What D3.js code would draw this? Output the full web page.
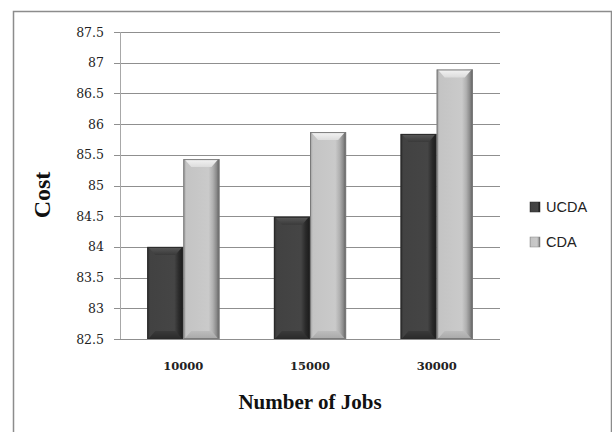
<!DOCTYPE html>
<html><head><meta charset="utf-8">
<script src="https://cdn.jsdelivr.net/npm/d3@7"></script>
<style>body{margin:0;background:#fff;} svg{display:block;}</style>
</head><body>
<svg id="c" width="612" height="432"></svg>
<script>
const categories = ["10000", "15000", "30000"];
const seriesNames = ["UCDA", "CDA"];
const ucda = [84.0, 84.49, 85.84];
const cda = [85.43, 85.87, 86.89];
const yTicks = [82.5, 83, 83.5, 84, 84.5, 85, 85.5, 86, 86.5, 87, 87.5];

const svg = d3.select("#c");
const defs = svg.append("defs");
function hgrad(id, stops){
  const g = defs.append("linearGradient").attr("id", id).attr("x1","0").attr("x2","1").attr("y1","0").attr("y2","0");
  stops.forEach(s => g.append("stop").attr("offset", s[0]).attr("stop-color", s[1]));
}
function vgrad(id, stops){
  const g = defs.append("linearGradient").attr("id", id).attr("x1","0").attr("x2","0").attr("y1","0").attr("y2","1");
  stops.forEach(s => g.append("stop").attr("offset", s[0]).attr("stop-color", s[1]));
}
hgrad("darkBody", [[0,"#2e2e2e"],[0.08,"#424242"],[0.75,"#454545"],[0.88,"#2a2a2a"],[1,"#1a1a1a"]]);
hgrad("lightBody", [[0,"#9a9a9a"],[0.08,"#c4c4c4"],[0.7,"#cacaca"],[0.82,"#b0b0b0"],[0.92,"#8a8a8a"],[1,"#5a5a5a"]]);
vgrad("darkTop", [[0,"#5a5a5a"],[1,"#3a3a3a"]]);
vgrad("lightTop", [[0,"#f4f4f4"],[1,"#dcdcdc"]]);
vgrad("darkBot", [[0,"#3a3a3a"],[1,"#2a2a2a"]]);
vgrad("lightBot", [[0,"#bcbcbc"],[1,"#a8a8a8"]]);

// outer frame
svg.append("path").attr("d","M13.5,432 V11.5 H611.5 V432").attr("fill","none").attr("stroke","#8c8c8c").attr("stroke-width",1.5);

const x0 = d3.scaleBand().domain(categories).range([120, 500]).paddingInner(0.43).paddingOuter(0.215);
const x1 = d3.scaleBand().domain(seriesNames).range([0, x0.bandwidth()]);
const y = d3.scaleLinear().domain([82.5, 87.5]).range([339, 32]);

// gridlines
svg.append("g").selectAll("line").data(yTicks).join("line")
  .attr("x1", 114).attr("x2", 500)
  .attr("y1", d => Math.round(y(d)) + 0.5).attr("y2", d => Math.round(y(d)) + 0.5)
  .attr("stroke", "#8f8f8f").attr("stroke-width", 1);
svg.append("line").attr("x1",120.5).attr("x2",120.5).attr("y1",y(87.5)).attr("y2",y(82.5)).attr("stroke","#a8a8a8");

// y tick labels
svg.append("g").selectAll("text").data(yTicks).join("text")
  .attr("x", 104).attr("y", d => y(d) + 4.5)
  .attr("text-anchor","end").attr("font-family","'DejaVu Serif', serif").attr("font-size", 12.5)
  .attr("fill","#222").text(d => d);

// bars
const data = [];
categories.forEach((c, i) => {
  data.push({c, s: "UCDA", v: ucda[i]});
  data.push({c, s: "CDA", v: cda[i]});
});
const g = svg.append("g");
const b = 8;
data.forEach(d => {
  const xa = x0(d.c) + x1(d.s), w = x1.bandwidth(), ya = y(d.v), yb = y(82.5);
  const dark = d.s === "UCDA";
  g.append("rect").attr("x", xa).attr("y", ya).attr("width", w).attr("height", yb - ya)
    .attr("fill", dark ? "url(#darkBody)" : "url(#lightBody)");
  g.append("polygon").attr("points", [[xa+1,ya],[xa+w-1,ya],[xa+w-b,ya+b],[xa+b,ya+b]].map(p=>p.join(",")).join(" "))
    .attr("fill", dark ? "url(#darkTop)" : "url(#lightTop)");
  g.append("polygon").attr("points", [[xa+1,yb],[xa+w-1,yb],[xa+w-b,yb-b],[xa+b,yb-b]].map(p=>p.join(",")).join(" "))
    .attr("fill", dark ? "url(#darkBot)" : "url(#lightBot)");
  g.append("rect").attr("x", xa+0.5).attr("y", ya+0.5).attr("width", w-1).attr("height", yb - ya - 1)
    .attr("fill","none").attr("stroke", dark ? "#2a2a2a" : "#7a7a7a").attr("stroke-width",1);
});

// x labels
svg.append("g").selectAll("text").data(categories).join("text")
  .attr("x", d => x0(d) + x0.bandwidth()/2).attr("y", 370)
  .attr("text-anchor","middle").attr("font-family","'DejaVu Serif', serif").attr("font-weight","bold").attr("font-size", 11.5)
  .attr("fill","#222").text(d => d);

svg.append("text").attr("x", 310).attr("y", 409).attr("text-anchor","middle")
  .attr("font-family","'Liberation Serif', serif").attr("font-weight","bold").attr("font-size", 21).attr("fill","#111")
  .text("Number of Jobs");
svg.append("text").attr("transform","translate(50,195) rotate(-90)").attr("text-anchor","middle")
  .attr("font-family","'Liberation Serif', serif").attr("font-weight","bold").attr("font-size", 24).attr("fill","#111")
  .text("Cost");

// legend
const leg = svg.append("g");
seriesNames.forEach((s, i) => {
  const ly = 207 + i * 35;
  leg.append("rect").attr("x", 530).attr("y", ly - 5).attr("width", 10).attr("height", 10)
    .attr("fill", i === 0 ? "url(#darkBody)" : "url(#lightBody)").attr("stroke", i===0?"#2a2a2a":"#888").attr("stroke-width",0.5);
  leg.append("text").attr("x", 546).attr("y", ly + 5).attr("font-family","'Liberation Sans', sans-serif")
    .attr("font-size", 14.5).attr("fill","#222").text(s);
});
</script>
</body></html>
